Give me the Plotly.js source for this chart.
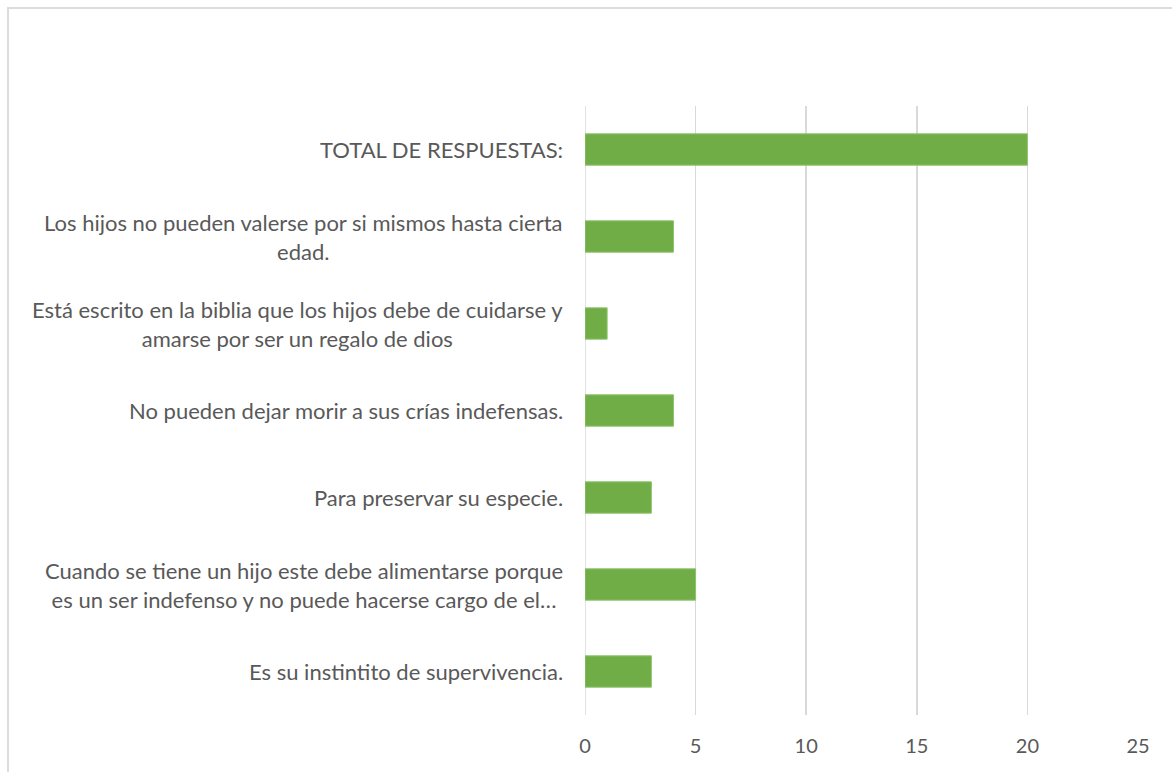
<!DOCTYPE html>
<html>
<head>
<meta charset="utf-8">
<script src="https://cdn.plot.ly/plotly-3.0.1.min.js"></script>
<style>
  html, body { margin: 0; padding: 0; background: #ffffff; overflow: hidden; }
  #frame { position: absolute; left: 7px; top: 7px; width: 1200px; height: 800px; border: 2px solid #dcdcdc; box-sizing: border-box; pointer-events: none; }
  #chart { position: absolute; left: 0; top: 0; width: 1172px; height: 772px; }
</style>
</head>
<body>
<div id="chart"></div>
<div id="frame"></div>
<script>
// Categories from top to bottom
const categories = [
  "TOTAL DE RESPUESTAS:",
  "Los hijos no pueden valerse por si mismos hasta cierta<br>edad.",
  "Está escrito en la biblia que los hijos debe de cuidarse y<br>amarse por ser un regalo de dios",
  "No pueden dejar morir a sus crías indefensas.",
  "Para preservar su especie.",
  "Cuando se tiene un hijo este debe alimentarse porque<br>es un ser indefenso y no puede hacerse cargo de el…",
  "Es su instintito de supervivencia."
];
const values = [20, 4, 1, 4, 3, 5, 3];
const xTicks = [0, 5, 10, 15, 20, 25];

const FONT = "Lato, 'Open Sans', sans-serif";
const TEXT_COLOR = "#595959";

const trace = {
  type: "bar",
  orientation: "h",
  x: values,
  y: categories,
  marker: { color: "#70ad47", line: { color: "#8cc46a", width: 1 } },
  hoverinfo: "x+y"
};

const annotations = categories.map(c => ({
  xref: "paper", yref: "y",
  x: 0, y: c,
  xanchor: "right", yanchor: "middle",
  xshift: -20,
  align: "center",
  showarrow: false,
  text: c,
  font: { family: FONT, size: 22, color: TEXT_COLOR }
}));

const layout = {
  width: 1172, height: 772,
  margin: { l: 585, r: 34, t: 106, b: 57, pad: 0 },
  paper_bgcolor: "rgba(0,0,0,0)",
  plot_bgcolor: "rgba(0,0,0,0)",
  bargap: 0.64,
  showlegend: false,
  xaxis: {
    range: [0, 25],
    tickvals: xTicks,
    ticktext: xTicks.map(String),
    showgrid: true,
    gridcolor: "#d9d9d9",
    gridwidth: 1.5,
    zeroline: false,
    showline: false,
    ticks: "",
    ticklabelstandoff: 17,
    tickfont: { family: FONT, size: 20, color: TEXT_COLOR },
    fixedrange: true
  },
  yaxis: {
    type: "category",
    categoryorder: "array",
    categoryarray: categories,
    autorange: "reversed",
    showticklabels: false,
    showgrid: false,
    zeroline: false,
    showline: false,
    ticks: "",
    fixedrange: true
  },
  shapes: [{
    type: "line", xref: "x", yref: "paper",
    x0: 0, x1: 0, y0: 0, y1: 1,
    line: { color: "#d9d9d9", width: 1.5 }, layer: "below"
  }],
  annotations: annotations
};

Plotly.newPlot("chart", [trace], layout, { displayModeBar: false, staticPlot: true });
</script>
</body>
</html>
